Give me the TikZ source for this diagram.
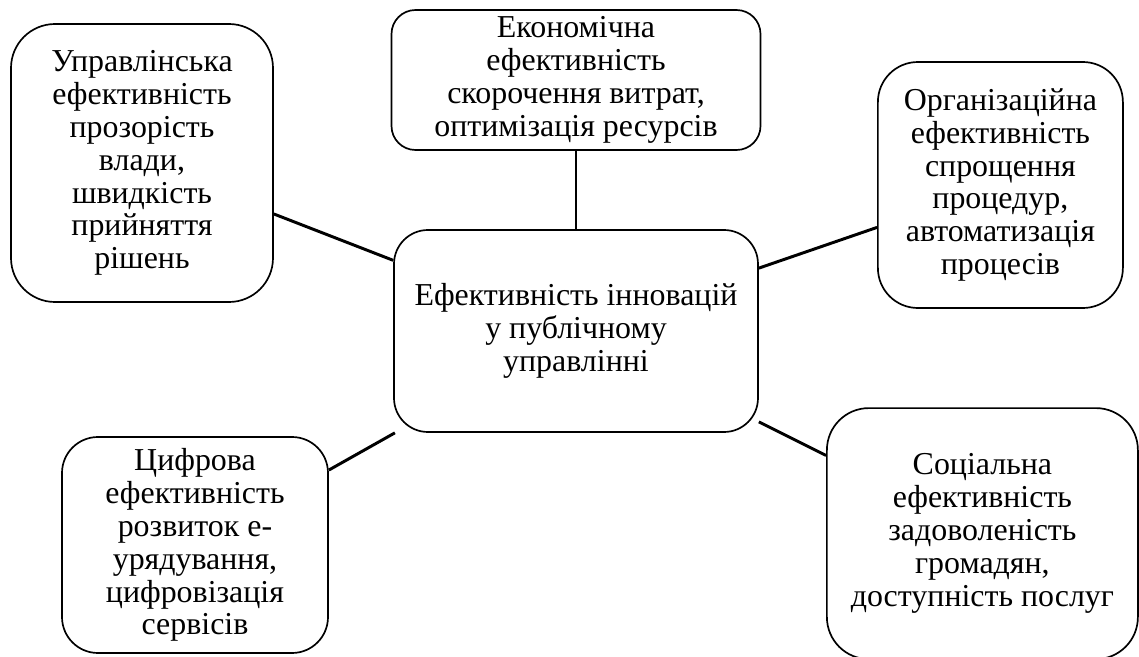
\documentclass[tikz,border=0pt]{standalone}
\usepackage{fontspec}
\setmainfont{Liberation Serif}
\usetikzlibrary{positioning}

\begin{document}
\begin{tikzpicture}[
    effbox/.style={rectangle, draw, line width=1.2pt, align=center, inner sep=0pt,
        font=\fontsize{22.7}{23.4}\selectfont},
    link/.style={line width=2.1pt}
]
    \useasboundingbox (0,0) rectangle (28.475,-16.425);

    \node[effbox, minimum width=9.1cm, minimum height=5.05cm, rounded corners=0.85cm] (core) at (14.4,-8.275)
        {Ефективність інновацій\\у публічному\\управлінні};
    \node[effbox, minimum width=9.225cm, minimum height=3.5cm, rounded corners=0.6cm] (econ) at (14.4,-2.0)
        {Економічна\\ефективність\\скорочення витрат,\\оптимізація ресурсів};
    \node[effbox, minimum width=6.55cm, minimum height=6.95cm, rounded corners=1.1cm] (mgmt) at (3.55,-4.075)
        {Управлінська\\ефективність\\прозорість\\влади,\\швидкість\\прийняття\\рішень};
    \node[effbox, minimum width=6.125cm, minimum height=6.15cm, rounded corners=1cm] (org) at (25.01,-4.625)
        {Організаційна\\ефективність\\спрощення\\процедур,\\автоматизація\\процесів};
    \node[effbox, minimum width=6.65cm, minimum height=5.4cm, rounded corners=0.9cm] (digi) at (4.875,-13.625)
        {Цифрова\\ефективність\\розвиток е-\\урядування,\\цифровізація\\сервісів};
    \node[effbox, minimum width=7.775cm, minimum height=6.275cm, rounded corners=1.05cm] (soc) at (24.56,-13.34)
        {Соціальна\\ефективність\\задоволеність\\громадян,\\доступність послуг};

    \draw[link] (econ) -- (core);
    \draw[link] (mgmt) -- (core);
    \draw[link] (org) -- (core);
    \draw[link] (digi) -- (core);
    \draw[link] (soc) -- (core);
\end{tikzpicture}
\end{document}
